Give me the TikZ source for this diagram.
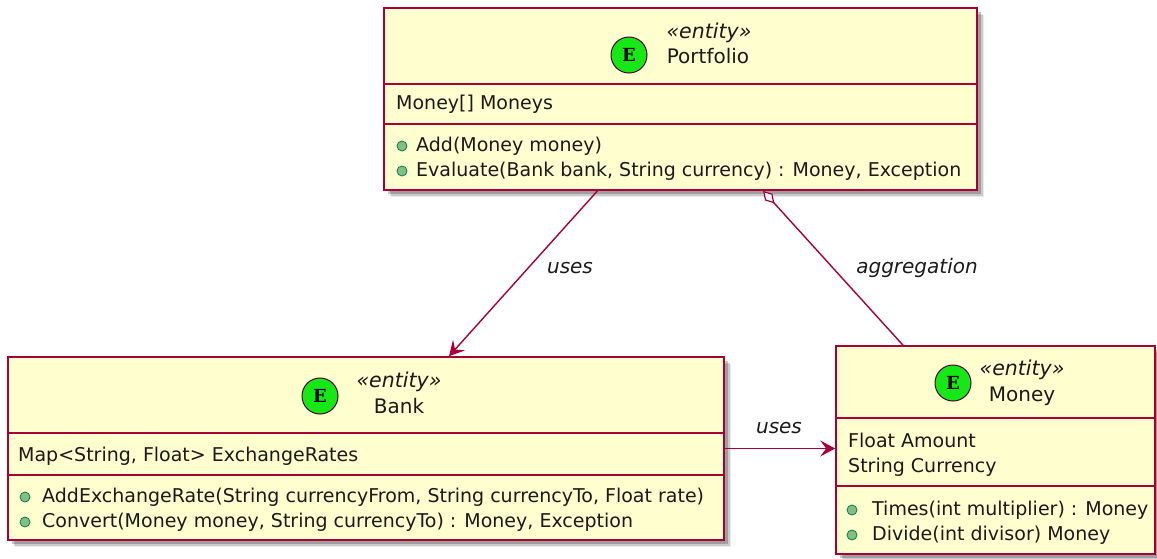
\documentclass[tikz,border=0pt]{standalone}
\usepackage{fontspec}
\setmainfont{DejaVu Sans}
\newfontfamily\spotfont{DejaVu Serif}
\usetikzlibrary{arrows.meta,shadows}
\definecolor{umlborder}{HTML}{A80036}
\definecolor{umlfill}{HTML}{FEFECE}
\definecolor{spotgreen}{HTML}{16E816}
\definecolor{visfill}{HTML}{84BE84}
\definecolor{visborder}{HTML}{038048}
\definecolor{txt}{HTML}{1A1A1A}
\begin{document}
\begin{tikzpicture}[x=1pt,y=-1pt,
  classbox/.style={draw=umlborder, fill=umlfill, line width=1.6pt, inner sep=0pt,
    drop shadow={shadow xshift=7pt, shadow yshift=-7pt, fill=black, opacity=.08},
    drop shadow={shadow xshift=5.5pt, shadow yshift=-5.5pt, fill=black, opacity=.14},
    drop shadow={shadow xshift=4pt, shadow yshift=-4pt, fill=black, opacity=.22}},
  sepline/.style={draw=umlborder, line width=1.6pt},
  spot/.style={circle, draw=umlborder!45!black, fill=spotgreen, line width=1pt, minimum size=36pt, inner sep=0pt,
    font=\spotfont\bfseries\fontsize{18}{18}\selectfont, text=black},
  vis/.style={circle, draw=visborder, fill=visfill, line width=0.8pt, minimum size=10pt, inner sep=0pt},
  member/.style={anchor=west, inner sep=0pt, text height=14pt, text depth=4pt, font=\fontsize{19}{22}\selectfont, text=txt},
  stereo/.style={inner sep=0pt, text height=14pt, text depth=4pt, font=\itshape\fontsize{20.5}{24}\selectfont, text=txt},
  cname/.style={inner sep=0pt, text height=14pt, text depth=4pt, font=\fontsize{20}{24}\selectfont, text=txt},
  conn/.style={draw=umlborder, line width=1.4pt},
  lbl/.style={inner sep=0pt, text height=14pt, text depth=4pt, font=\itshape\fontsize{20}{24}\selectfont, text=txt},
  tipend/.style={-{Stealth[length=15pt,width=16pt,inset=6pt]}},
  aggstart/.style={{Diamond[fill=white,length=17pt,width=10pt,line width=1.2pt]}-},
]
\useasboundingbox (0,0) rectangle (1157,558);

% ---------- Portfolio ----------
\node[classbox, minimum width=593pt, minimum height=182pt] (portfolio) at (680.5,99) {};
\draw[sepline] ([yshift=-77pt]portfolio.north west) -- ([yshift=-77pt]portfolio.north east);
\draw[sepline] ([yshift=-117pt]portfolio.north west) -- ([yshift=-117pt]portfolio.north east);
\node[spot] (pspot) at (629,55) {E};
\node[stereo] (pst) at (709,33) {«entity»};
\node[cname] (pname) at (708,58) {Portfolio};
\node[member] (pa1) at (396,104) {Money[] Moneys};
\node[vis] (pv1) at (402,146) {};
\node[member] (pm1) at (416,146) {Add(Money money)};
\node[vis] (pv2) at (402,171) {};
\node[member] (pm2) at (416,171) {Evaluate(Bank bank, String currency) : Money, Exception};

% ---------- Bank ----------
\node[classbox, minimum width=716pt, minimum height=183pt] (bank) at (366,448.5) {};
\draw[sepline] ([yshift=-77pt]bank.north west) -- ([yshift=-77pt]bank.north east);
\draw[sepline] ([yshift=-119pt]bank.north west) -- ([yshift=-119pt]bank.north east);
\node[spot] (bspot) at (320,396) {E};
\node[stereo] (bst) at (399,382) {«entity»};
\node[cname] (bname) at (399,408) {Bank};
\node[member] (ba1) at (18,456) {Map<String, Float> ExchangeRates};
\node[vis] (bv1) at (25,497) {};
\node[member] (bm1) at (42,497) {AddExchangeRate(String currencyFrom, String currencyTo, Float rate)};
\node[vis] (bv2) at (25,522) {};
\node[member] (bm2) at (42,522) {Convert(Money money, String currencyTo) : Money, Exception};

% ---------- Money ----------
\node[classbox, minimum width=319pt, minimum height=208pt] (money) at (995.5,450) {};
\draw[sepline] ([yshift=-73pt]money.north west) -- ([yshift=-73pt]money.north east);
\draw[sepline] ([yshift=-141pt]money.north west) -- ([yshift=-141pt]money.north east);
\node[spot] (mspot) at (953,383) {E};
\node[stereo] (mst) at (1022,370) {«entity»};
\node[cname] (mname) at (1022,396) {Money};
\node[member] (ma1) at (848,442) {Float Amount};
\node[member] (ma2) at (848,467) {String Currency};
\node[vis] (mv1) at (852,510) {};
\node[member] (mm1) at (872,510) {Times(int multiplier) : Money};
\node[vis] (mv2) at (852,535) {};
\node[member] (mm2) at (872,535) {Divide(int divisor) Money};

% ---------- connectors ----------
\draw[conn, tipend] ([xshift=-83pt]portfolio.south) -- ([xshift=83pt]bank.north);
\node[lbl] (luses1) at (570,268) {uses};
\draw[conn, aggstart] ([xshift=82.5pt]portfolio.south) -- ([xshift=-92.5pt]money.north);
\node[lbl] (lagg) at (917,268) {aggregation};
\draw[conn, tipend] (bank.east) -- (bank.east -| money.west);
\node[lbl] (luses2) at (779,428) {uses};
\end{tikzpicture}
\end{document}
